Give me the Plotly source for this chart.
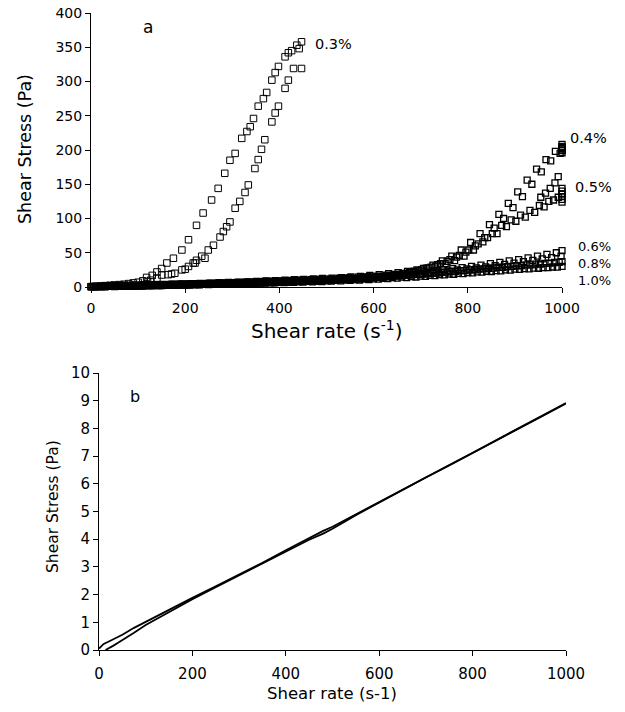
import plotly.graph_objects as go

# ---------------- panel a : shear stress (Pa) vs shear rate (1/s) ----------------
# 0.3 % : two branches of the loop
c03_rate_a = [0, 10, 20, 30, 40, 50, 60, 70, 80, 90, 100, 110, 118, 130, 140, 150, 161, 175, 193, 207,
              224, 238, 256, 270, 284, 295, 306, 320, 331, 338, 345, 355, 366, 373, 384, 391, 398, 412,
              419, 426, 437, 442, 447]
c03_stress_a = [0.5, 1, 1.5, 2, 2.5, 3, 3.5, 4, 5, 6, 7, 9, 14, 17, 22, 27, 35, 42, 54, 69,
                90, 108, 127, 144, 166, 185, 195, 217, 227, 234, 246, 264, 275, 284, 302, 313, 322, 336,
                342, 345, 353, 348, 358]
c03_rate_b = [120, 127, 140, 150, 164, 171, 178, 193, 200, 207, 217, 221, 224, 235, 242, 249, 260, 274,
              281, 288, 295, 306, 316, 327, 334, 348, 355, 362, 369, 384, 391, 398, 412, 419, 430, 447]
c03_stress_b = [8, 10, 13, 17.5, 18, 19, 20, 25, 26, 30, 35, 35, 39, 45, 42, 54, 61, 73,
                81, 88, 95, 115, 125, 138, 149, 173, 186, 201, 215, 241, 254, 264, 290, 302, 319, 319]

# shear-rate ramps at which the other concentrations were sampled (up and down sweeps)
rate_10_up = [0, 20, 40, 60, 80, 100, 120, 140, 160, 180, 200, 220, 240, 260, 280, 300, 320, 340, 360,
              380, 400, 420, 440, 460, 480, 500, 520, 540, 560, 580, 600, 620, 640, 660, 680, 700, 720,
              740, 760, 780, 800, 820, 840, 860, 880, 900, 920, 940, 960, 980, 1000]
rate_08_up = [4, 24, 44, 64, 84, 104, 124, 144, 164, 184, 204, 224, 244, 264, 284, 304, 324, 344, 364,
              384, 404, 424, 444, 464, 484, 504, 524, 544, 564, 584, 604, 624, 644, 664, 684, 704, 724,
              744, 764, 784, 804, 824, 844, 864, 884, 904, 924, 944, 964, 984, 1000]
rate_06_up = [8, 28, 48, 68, 88, 108, 128, 148, 168, 188, 208, 228, 248, 268, 288, 308, 328, 348, 368,
              388, 408, 428, 448, 468, 488, 508, 528, 548, 568, 588, 608, 628, 648, 668, 688, 708, 728,
              748, 768, 788, 808, 828, 848, 868, 888, 908, 928, 948, 968, 988, 1000]
rate_05_up = [12, 32, 52, 72, 92, 112, 132, 152, 172, 192, 212, 232, 252, 272, 292, 312, 332, 352, 372,
              392, 412, 432, 452, 472, 492, 512, 532, 552, 572, 592, 612, 632, 652, 672, 692, 712, 732,
              752, 772, 792, 812, 832, 852, 872, 892, 912, 932, 952, 972, 992, 1000]
rate_04_up = [16, 36, 56, 76, 96, 116, 136, 156, 176, 196, 216, 236, 256, 276, 296, 316, 336, 356, 376,
              396, 416, 436, 456, 476, 496, 516, 536, 556, 576, 596, 616, 636, 656, 676, 696, 716, 736,
              756, 776, 796, 816, 836, 856, 876, 896, 916, 936, 956, 976, 996, 1000]
rate_10_down = [990, 970, 950, 930, 910, 890, 870, 850, 830, 810, 790, 770, 750, 730, 710, 690, 670,
                650, 630, 610, 590, 570, 550, 530, 510, 490, 470, 450, 430, 410, 390, 370, 350, 330,
                310, 290, 270, 250, 230, 210, 190, 170, 150, 130, 110, 90, 70, 50, 30, 10]
rate_08_down = [994, 974, 954, 934, 914, 894, 874, 854, 834, 814, 794, 774, 754, 734, 714, 694, 674,
                654, 634, 614, 594, 574, 554, 534, 514, 494, 474, 454, 434, 414, 394, 374, 354, 334,
                314, 294, 274, 254, 234, 214, 194, 174, 154, 134, 114, 94, 74, 54, 34, 14]
rate_06_down = [998, 978, 958, 938, 918, 898, 878, 858, 838, 818, 798, 778, 758, 738, 718, 698, 678,
                658, 638, 618, 598, 578, 558, 538, 518, 498, 478, 458, 438, 418, 398, 378, 358, 338,
                318, 298, 278, 258, 238, 218, 198, 178, 158, 138, 118, 98, 78, 58, 38, 18]
rate_05_down = [982, 962, 942, 922, 902, 882, 862, 842, 822, 802, 782, 762, 742, 722, 702, 682, 662,
                642, 622, 602, 582, 562, 542, 522, 502, 482, 462, 442, 422, 402, 382, 362, 342, 322,
                302, 282, 262, 242, 222, 202, 182, 162, 142, 122, 102, 82, 62, 42, 22, 2]
rate_04_down = [986, 966, 946, 926, 906, 886, 866, 846, 826, 806, 786, 766, 746, 726, 706, 686, 666,
                646, 626, 606, 586, 566, 546, 526, 506, 486, 466, 446, 426, 406, 386, 366, 346, 326,
                306, 286, 266, 246, 226, 206, 186, 166, 146, 126, 106, 86, 66, 46, 26, 6]

c04_up = [0.6, 1.0, 1.4, 1.8, 2.2, 2.6, 3.0, 3.4, 3.8, 4.2, 4.6, 5.0, 5.4, 5.8, 6.2, 6.6, 7.0, 7.5, 8.0,
          8.5, 9.0, 9.4, 9.8, 10.2, 10.6, 11.0, 11.6, 12.3, 13.0, 14.0, 15.0, 16.5, 18.5, 21.0, 24.0,
          28.0, 32.5, 37.5, 43.5, 51.0, 60.0, 72, 86, 100, 116, 132, 150, 168, 184, 195, 204]
c04_down = [198, 186, 172, 156, 139, 122, 106, 91, 78, 65, 54, 45, 38, 32, 27, 23, 20, 17.5, 15.5, 14,
            12.8, 11.8, 11.0, 10.3, 9.7, 9.1, 8.6, 8.1, 7.6, 7.1, 6.6, 6.1, 5.6, 5.2, 4.8, 4.4, 4.0,
            3.7, 3.4, 3.1, 2.8, 2.5, 2.2, 1.9, 1.6, 1.3, 1.0, 0.8, 0.6, 0.4]
c05_up = [1.0, 1.4, 1.8, 2.2, 2.6, 3.0, 3.4, 3.8, 4.2, 4.6, 5.0, 5.4, 5.8, 6.2, 6.6, 7.0, 7.6, 8.2, 8.8,
          9.4, 10.0, 10.6, 11.2, 11.8, 12.4, 13.0, 13.8, 14.6, 15.6, 16.8, 18.0, 19.5, 21.0, 22.8, 25.0,
          27.5, 30.5, 34.0, 38.5, 45.0, 54.0, 66, 78, 90, 98, 105, 112, 119, 125, 131, 136]
c05_down = [127, 117, 109, 102, 96, 88, 78, 72, 63, 54, 46, 40, 34, 29, 25, 22, 19.5, 17.5, 15.8, 14.4,
            13.2, 12.2, 11.3, 10.5, 9.8, 9.2, 8.6, 8.0, 7.5, 7.0, 6.5, 6.0, 5.6, 5.2, 4.8, 4.4, 4.0,
            3.7, 3.4, 3.1, 2.8, 2.5, 2.2, 1.9, 1.6, 1.3, 1.0, 0.8, 0.6, 0.4]
c05_peak_rate = [955, 965, 975, 985, 992]
c05_peak = [131, 137, 144, 152, 161]
c06_up = [1.0, 1.4, 1.8, 2.2, 2.6, 3.0, 3.3, 3.6, 3.9, 4.2, 4.5, 4.9, 5.3, 5.7, 6.1, 6.5, 7.0, 7.5, 8.0,
          8.5, 9.0, 9.6, 10.2, 10.8, 11.4, 12.0, 12.8, 13.6, 14.4, 15.2, 16.0, 17.2, 18.4, 19.6, 20.8,
          22.0, 23.6, 25.2, 26.8, 28.4, 30.0, 32, 34, 36, 38, 40, 42.5, 45, 47.5, 50, 53]
c06_down = [45, 43, 41, 39, 37, 35, 33, 31, 29.5, 28, 26.5, 25, 23.5, 22, 20.6, 19.3, 18, 16.8, 15.6,
            14.6, 13.6, 12.8, 12.0, 11.3, 10.6, 10.0, 9.4, 8.8, 8.2, 7.7, 7.2, 6.7, 6.2, 5.8, 5.4, 5.0,
            4.6, 4.2, 3.9, 3.6, 3.3, 3.0, 2.7, 2.4, 2.1, 1.8, 1.5, 1.2, 0.9, 0.6]
c08_up = [0.8, 1.1, 1.5, 1.8, 2.2, 2.5, 2.8, 3.1, 3.4, 3.7, 4.0, 4.4, 4.8, 5.2, 5.6, 6.0, 6.4, 6.8, 7.2,
          7.6, 8.0, 8.5, 9.0, 9.5, 10.0, 10.5, 11.2, 11.9, 12.6, 13.3, 14.0, 15, 16, 17, 18, 19, 20.2,
          21.4, 22.6, 23.8, 25, 26.2, 27.4, 28.6, 29.8, 31, 32.2, 33.4, 34.6, 35.8, 37]
c08_down = [36, 34.8, 33.6, 32.4, 31.2, 30, 28.8, 27.6, 26.4, 25.2, 24, 22.8, 21.6, 20.4, 19.3, 18.3,
            17.3, 16.3, 15.3, 14.4, 13.6, 12.8, 12.0, 11.3, 10.6, 10.0, 9.4, 8.9, 8.4, 7.9, 7.4, 6.9,
            6.5, 6.1, 5.7, 5.3, 4.9, 4.5, 4.1, 3.7, 3.4, 3.0, 2.7, 2.4, 2.1, 1.8, 1.5, 1.2, 0.9, 0.6]
c10_up = [0.5, 0.8, 1.1, 1.4, 1.7, 2.0, 2.3, 2.6, 2.9, 3.2, 3.5, 3.8, 4.1, 4.4, 4.7, 5.0, 5.4, 5.8, 6.2,
          6.6, 7.0, 7.4, 7.8, 8.2, 8.6, 9.0, 9.6, 10.2, 10.8, 11.4, 12.0, 12.8, 13.6, 14.4, 15.2, 16.0,
          17, 18, 19, 20, 21, 22, 23, 24, 25, 26, 26.8, 27.6, 28.4, 29.2, 30]
c10_down = [29.0, 28.2, 27.4, 26.6, 25.6, 24.6, 23.6, 22.6, 21.6, 20.6, 19.6, 18.6, 17.6, 16.6, 15.6,
            14.6, 13.8, 13.0, 12.2, 11.4, 10.8, 10.2, 9.6, 9.0, 8.5, 8.0, 7.6, 7.2, 6.8, 6.4, 6.0, 5.6,
            5.2, 4.8, 4.4, 4.1, 3.8, 3.5, 3.2, 2.9, 2.6, 2.3, 2.0, 1.7, 1.4, 1.1, 0.8, 0.6, 0.4, 0.2]
hold_rate = [1000, 1000, 1000, 1000, 1000, 1000]
c04_hold = [196, 199, 202, 205, 208, 200]
c05_hold = [124, 128, 132, 136, 140, 144]

# curve labels (placed at these shear-rate / stress positions)
conc_labels = ["0.3%", "0.4%", "0.5%"]
label_rate = [471, 1013, 1023]
label_stress = [355, 217, 146]
stacked_labels = ["0.6%", "0.8%", "1.0%"]
stacked_rate = 1030
stacked_stress = 35

# ---------------- panel b : Newtonian reference line ----------------
b_rate_1 = [0, 5, 10, 20, 30, 50, 75, 100, 150, 200, 250, 300, 350, 400, 450, 480, 500, 550, 600, 650,
            700, 750, 800, 850, 900, 950, 1000]
b_stress_1 = [0.05, 0.15, 0.22, 0.3, 0.38, 0.55, 0.8, 1.02, 1.45, 1.88, 2.3, 2.72, 3.15, 3.6, 4.05, 4.3,
              4.45, 4.9, 5.35, 5.8, 6.25, 6.68, 7.12, 7.57, 8.02, 8.47, 8.92]
b_rate_2 = [14, 20, 25, 30, 40, 50, 75, 100, 150, 200, 250, 300, 350, 400, 450, 480, 500, 550, 600, 650,
            700, 750, 800, 850, 900, 950, 1000]
b_stress_2 = [0, 0.05, 0.1, 0.15, 0.25, 0.35, 0.62, 0.9, 1.38, 1.83, 2.27, 2.7, 3.12, 3.56, 3.98, 4.2,
              4.38, 4.87, 5.33, 5.78, 6.23, 6.66, 7.1, 7.55, 8.0, 8.45, 8.9]

W, H = 625, 712
FONT = "DejaVu Sans"
A_X = (91, 562)     # panel a plot area, pixels
A_Y = (287, 13)
B_X = (99, 566)     # panel b plot area, pixels
B_Y = (650, 373)


def fx(p):
    return p / W


def fy(p):
    return 1 - p / H


def a_px(rate, stress):
    return (A_X[0] + (A_X[1] - A_X[0]) * rate / 1000.0,
            A_Y[0] + (A_Y[1] - A_Y[0]) * stress / 400.0)


fig = go.Figure()

mk = dict(symbol="square-open", size=6, color="black", line=dict(width=1.3, color="black"))
mk3 = dict(symbol="square-open", size=6.5, color="black", line=dict(width=1, color="black"))

series = [
    (rate_10_up, c10_up), (rate_10_down, c10_down),
    (rate_08_up, c08_up), (rate_08_down, c08_down),
    (rate_06_up, c06_up), (rate_06_down, c06_down),
    (rate_05_up, c05_up), (rate_05_down, c05_down), (c05_peak_rate, c05_peak), (hold_rate, c05_hold),
    (rate_04_up, c04_up), (rate_04_down, c04_down), (hold_rate, c04_hold),
]
for xs, ys in series:
    fig.add_trace(go.Scatter(x=xs, y=ys, mode="markers", marker=mk, cliponaxis=False,
                             xaxis="x", yaxis="y", showlegend=False, hoverinfo="skip"))
for xs, ys in [(c03_rate_a, c03_stress_a), (c03_rate_b, c03_stress_b)]:
    fig.add_trace(go.Scatter(x=xs, y=ys, mode="markers", marker=mk3, cliponaxis=False,
                             xaxis="x", yaxis="y", showlegend=False, hoverinfo="skip"))

for xs, ys in [(b_rate_1, b_stress_1), (b_rate_2, b_stress_2)]:
    fig.add_trace(go.Scatter(x=xs, y=ys, mode="lines", line=dict(color="black", width=1.8),
                             xaxis="x2", yaxis="y2", showlegend=False, hoverinfo="skip"))

axis_common = dict(showline=True, linecolor="black", linewidth=1, ticks="outside", ticklen=5,
                   tickcolor="black", tickwidth=1, showgrid=False, zeroline=False, automargin=False)

fig.update_layout(
    template="none",
    width=W, height=H,
    margin=dict(l=0, r=0, t=0, b=0, autoexpand=False),
    paper_bgcolor="white", plot_bgcolor="white",
    font=dict(family=FONT, color="black"),
    xaxis=dict(domain=[fx(A_X[0]), fx(A_X[1])], range=[0, 1000], tickvals=[0, 200, 400, 600, 800, 1000],
               tickfont=dict(size=14), ticklabelstandoff=3, anchor="y", **axis_common),
    yaxis=dict(domain=[fy(A_Y[0]), fy(A_Y[1])], range=[0, 400], dtick=50, tickfont=dict(size=14),
               anchor="x", **axis_common),
    xaxis2=dict(domain=[fx(B_X[0]), fx(B_X[1])], range=[0, 1000], tickvals=[0, 200, 400, 600, 800, 1000],
                tickfont=dict(size=15), ticklabelstandoff=5, anchor="y2", **axis_common),
    yaxis2=dict(domain=[fy(B_Y[0]), fy(B_Y[1])], range=[0, 10], dtick=1, tickfont=dict(size=15),
                anchor="x2", **axis_common),
)

ann = []
for t, xr, yr in zip(conc_labels, label_rate, label_stress):
    px_x, px_y = a_px(xr, yr)
    ann.append(dict(text=t, x=fx(px_x), y=fy(px_y), xref="paper", yref="paper", xanchor="left",
                    yanchor="middle", showarrow=False, font=dict(size=14.5, family=FONT)))
sx, sy = a_px(stacked_rate, stacked_stress)
ann.append(dict(text="<br>".join(stacked_labels), x=fx(sx), y=fy(sy), xref="paper", yref="paper",
                xanchor="left", yanchor="middle", align="left", showarrow=False,
                font=dict(size=13, family=FONT)))


def label(text, x, y, size, angle=0):
    return dict(text=text, x=fx(x), y=fy(y), xref="paper", yref="paper", xanchor="center",
                yanchor="middle", textangle=angle, showarrow=False, font=dict(size=size, family=FONT))


ann += [
    label("a", 148, 27, 17),
    label("b", 135, 397, 16),
    label("Shear Stress (Pa)", 25, 149, 17.5, -90),
    label("Shear rate (s<sup>-1</sup>)", 327, 330, 20),
    label("Shear Stress (Pa)", 53, 507, 15.5, -90),
    label("Shear rate (s-1)", 332, 693, 16.5),
]
fig.update_layout(annotations=ann)

fig.write_html("out.html", config={"displayModeBar": False},
               post_script="document.body.style.margin='0';")
